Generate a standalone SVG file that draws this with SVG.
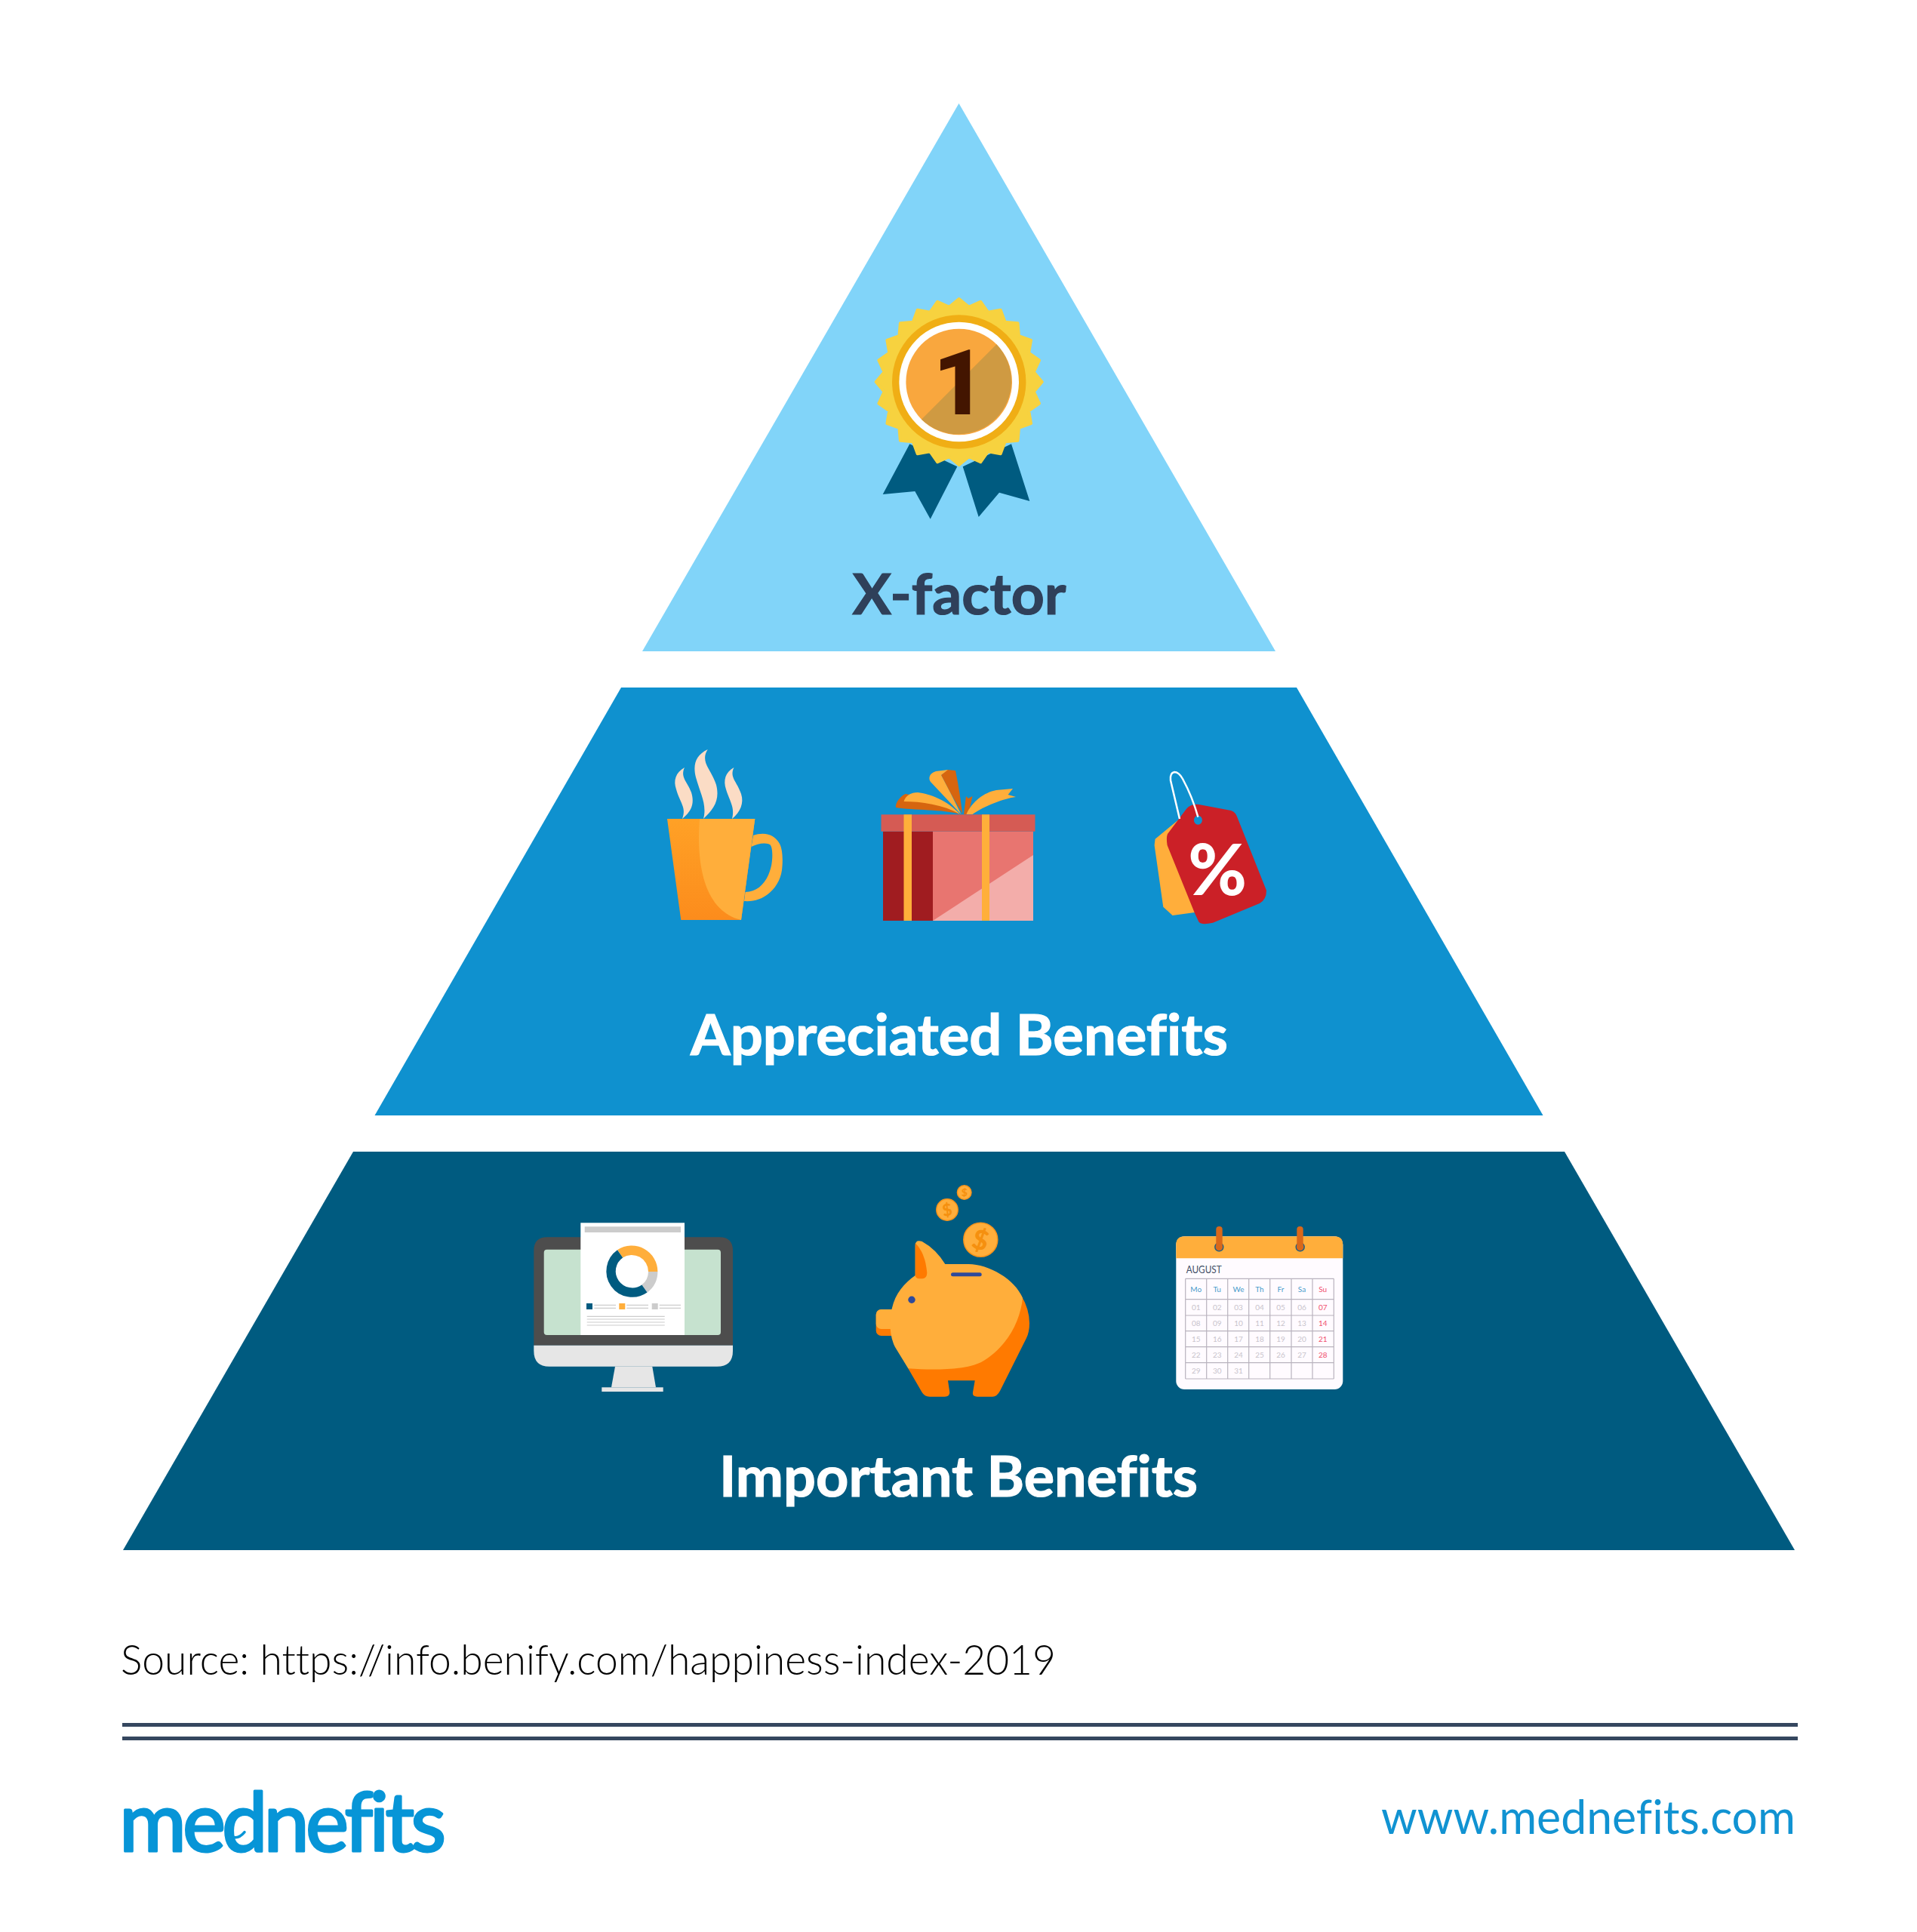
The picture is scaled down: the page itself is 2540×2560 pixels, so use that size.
<svg xmlns="http://www.w3.org/2000/svg" width="2540" height="2560" viewBox="0 0 2540 2560">
<style>
text{font-variant-ligatures:none}
.h{font-family:"Lato","Liberation Sans",sans-serif;font-weight:700;font-size:75px;fill:#fff;stroke:#fff;stroke-width:1.2;text-anchor:middle}
.org{fill:#FFAE3B}.drk{fill:#FF7A00}
.cd{font-family:"Lato","Liberation Sans",sans-serif;font-size:10px;text-anchor:middle;fill:#C8C4CC}
.cw{fill:#4A9BCB}.cr{fill:#F0506E}
.gl{stroke:#B9B3BE;stroke-width:1.2;fill:none}
.ln{stroke:#CCCCCC;stroke-width:1.2;fill:none}
.coin{fill:#FFAE3B;stroke:#F8931A;stroke-width:1.5}
.dl{font-family:"Lato","Liberation Sans",sans-serif;font-weight:900;fill:#F5900F;text-anchor:middle}
.st{fill:#FBDCC5}
.rule{fill:#35475F}
</style>
<rect width="2540" height="2560" fill="#fff"/>

<g id="tier-xfactor">
<polygon points="1270.500,137 1690,863 851,863" fill="#81D4F9"/>
<text class="h" x="1271" y="814" style="fill:#2F405A;stroke:#2F405A" textLength="283" lengthAdjust="spacingAndGlyphs">X-factor</text>
</g>
<g id="icon-medal">
<polygon points="1205.300,588.300 1268.300,618.300 1232.700,687.700 1212.300,651 1169.700,655" fill="#005B80"/>
<polygon points="1340,588.300 1364.300,664 1324,652.700 1296.700,685 1275.700,618.300" fill="#005B80"/>
<polygon transform="translate(1270.700 506)" fill="#F7D23F" stroke="#F7D23F" stroke-width="4" stroke-linejoin="round" points="0,-110 13.050,-99.100 28.500,-106.300 38.300,-92.400 55,-95.300 60.900,-79.300 77.800,-77.800 79.300,-60.900 95.300,-55 92.400,-38.300 106.300,-28.500 99.100,-13.050 110,0 99.100,13.050 106.300,28.500 92.400,38.300 95.300,55 79.300,60.900 77.800,77.800 60.900,79.300 55,95.300 38.300,92.400 28.500,106.300 13.050,99.100 0,110 -13.050,99.100 -28.500,106.300 -38.300,92.400 -55,95.300 -60.900,79.300 -77.800,77.800 -79.300,60.900 -95.300,55 -92.400,38.300 -106.300,28.500 -99.100,13.050 -110,0 -99.100,-13.050 -106.300,-28.500 -92.400,-38.300 -95.300,-55 -79.300,-60.900 -77.800,-77.800 -60.900,-79.300 -55,-95.300 -38.300,-92.400 -28.500,-106.300 -13.050,-99.100"/>
<circle cx="1270.700" cy="506" r="88.700" fill="#F0AE15"/>
<circle cx="1270.700" cy="506" r="79.300" fill="#fff"/>
<circle cx="1270.700" cy="506" r="70.300" fill="#F9A73E"/>
<path d="M1320.400 456.300 A70.300 70.300 0 0 1 1221 555.700 Z" fill="#CF9A42"/>
<text x="1271" y="549.300" font-family="Roboto,'Liberation Sans',sans-serif" font-weight="900" font-size="120" text-anchor="middle" fill="#431500">1</text>
</g>

<g id="tier-appreciated">
<polygon points="823,911 1718,911 2044.500,1478 496.500,1478" fill="#0F91CF"/>
<text class="h" x="1271" y="1398" textLength="712" lengthAdjust="spacingAndGlyphs">Appreciated Benefits</text>
</g>
<g id="icon-mug">
<path class="st" d="M907 1017 C895 1024 892 1034 896 1046 C901 1064 910 1070 904 1085 C915 1076 921 1066 916 1050 C911 1036 901 1030 907 1017Z"/>
<path class="st" d="M937.700 993 C921 1001 918 1014 922 1030 C928 1052 937 1066 932 1085 C946 1072 954 1060 949 1040 C943 1020 927 1010 937.700 993Z"/>
<path class="st" d="M972.500 1017 C961 1023 958 1034 962 1046 C967 1062 974 1070 970 1085 C981 1076 986 1064 982 1052 C977 1036 966 1030 972.500 1017Z"/>
<path class="org" d="M998 1107 C1012 1102 1026 1105 1033 1118 C1038 1128 1037 1145 1036 1153 C1033 1175 1014 1196 986 1194 L987.500 1182 C1006 1182 1018 1166 1022 1147 C1024 1137 1024 1122 1020 1119 C1014 1116 1003 1118 995.500 1122Z"/>
<defs><linearGradient id="mugg" x1="0" y1="0" x2="0" y2="1"><stop offset="0" stop-color="#FFA126"/><stop offset="1" stop-color="#FC8C1C"/></linearGradient></defs>
<polygon points="884,1085 1000.300,1085 982,1219 902.300,1219" fill="url(#mugg)"/>
<path class="org" d="M927 1085 C922 1150 935 1208 982 1219 L1000.300 1085Z"/>
</g>
<g id="icon-gift">
<rect x="1170" y="1101.700" width="66" height="118.300" fill="#A01C20"/>
<rect x="1236" y="1101.700" width="133" height="118.300" fill="#E87570"/>
<polygon points="1236,1220 1369,1133 1369,1220" fill="#F3ADAA"/>
<rect x="1167.500" y="1079.300" width="204" height="22.400" fill="#D55B54"/>
<rect x="1197.500" y="1079.300" width="10.500" height="140.700" fill="#FFAF3A"/>
<rect x="1301" y="1079.300" width="10" height="140.700" fill="#FFAF3A"/>
<path d="M1272 1079 C1250 1072 1210 1074 1187 1070 C1186 1062 1196 1053 1200 1052 L1240 1060Z" fill="#D6650F"/>
<path class="org" d="M1272 1079 C1255 1060 1232 1052 1216 1050 C1207 1050 1200 1054 1197.500 1062 C1220 1062 1250 1066 1272 1079Z"/>
<path d="M1247 1027 L1255 1020 L1266 1021 C1270 1040 1273 1060 1275 1078 L1259 1050Z" fill="#D6650F"/>
<path class="org" d="M1273.500 1079 L1233 1036 C1229 1030 1233 1024 1240 1022 L1256 1020 L1247 1027 L1259 1050Z"/>
<polygon points="1277,1079 1280,1055 1283,1058 1288.500,1055 1283,1079" fill="#D6650F"/>
<path class="org" d="M1280.500 1079 C1288 1062 1304 1050 1320 1047 L1342 1045 L1335.600 1053 L1346 1056 C1330 1058 1304 1068 1288.500 1079Z"/>
</g>
<g id="icon-tag">
<polygon points="1561.700,1086 1530.600,1111.700 1529.600,1120 1541.300,1201.700 1553.600,1213 1583,1209 1600,1150" class="org"/>
<path d="M1588.500 1066 L1631 1074 Q1637 1076 1639 1082 L1678 1180 Q1678 1192 1669 1197 L1607 1222.700 Q1592 1226 1588.500 1221.700 L1583 1210 L1546.600 1120 Q1545 1110 1547 1105 L1572 1071.700 Q1578 1065 1588.500 1066Z" fill="#CB2027"/>
<ellipse cx="1587.400" cy="1086.700" rx="5.500" ry="6" fill="#0F91CF"/>
<path d="M1563 1085 L1551 1034 Q1550 1024 1556 1023 Q1562 1023 1567 1032 Q1580 1056 1587.400 1082.700" fill="none" stroke="#fff" stroke-width="2.500"/>
<text x="1613" y="1186" font-family="Lato,'Liberation Sans',sans-serif" font-weight="900" font-size="94" text-anchor="middle" fill="#fff">%</text>
</g>

<g id="tier-important">
<polygon points="468,1526 2073,1526 2378,2054 163,2054" fill="#005B80"/>
<text class="h" x="1270" y="1982.500" textLength="634" lengthAdjust="spacingAndGlyphs">Important Benefits</text>
</g>
<g id="icon-monitor">
<path d="M707.300 1782.700 V1657 Q707.300 1639.300 725 1639.300 H953 Q971 1639.300 971 1657 V1782.700Z" fill="#4D4D4D"/>
<rect x="720.700" y="1655.700" width="234.300" height="113.300" rx="4" fill="#C6E2CF"/>
<path d="M707.300 1782.700 H971 V1790 Q971 1810.700 950 1810.700 H728 Q707.300 1810.700 707.300 1790Z" fill="#E6E6E6"/>
<polygon points="815,1810.700 864.300,1810.700 869,1838.300 810,1838.300" fill="#E6E6E6"/>
<rect x="797.300" y="1838.300" width="81.400" height="5.700" fill="#E6E6E6"/>
<rect x="769.300" y="1620.300" width="137.700" height="148.700" fill="#fff"/>
<rect x="774.700" y="1625.300" width="127.300" height="7.700" fill="#CCCCCC"/>
<path d="M821.600 1661.300 A28.200 28.200 0 0 1 865.200 1685" fill="none" stroke="#FFAE3B" stroke-width="12.400"/>
<path d="M865.200 1685 A28.200 28.200 0 0 1 854 1707.500" fill="none" stroke="#CCCCCC" stroke-width="12.400"/>
<path d="M854 1707.500 A28.200 28.200 0 1 1 821.600 1661.300" fill="none" stroke="#005B80" stroke-width="12.400"/>
<rect x="777" y="1727" width="8" height="8" fill="#005B80"/>
<rect x="820.300" y="1727" width="8" height="8" fill="#FFAE3B"/>
<rect x="863.700" y="1727" width="8" height="8" fill="#CCCCCC"/>
<path class="ln" d="M787.300 1729.300H816M787.300 1733.300H816M830.300 1729.300H859M830.300 1733.300H859M873.700 1729.300H902M873.700 1733.300H902M777.700 1744.300H880.700M777.700 1748H880.700M777.700 1752H880.700M777.700 1756H880.700"/>
</g>
<g id="icon-piggy">
<circle class="coin" cx="1299.300" cy="1642.700" r="22.500"/>
<circle class="coin" cx="1255" cy="1603" r="14.200"/>
<circle class="coin" cx="1277.700" cy="1580" r="9.300"/>
<text class="dl" x="1299.300" y="1656" font-size="36" transform="rotate(15 1299.300 1642.700)">$</text>
<text class="dl" x="1255" y="1611" font-size="22" transform="rotate(-10 1255 1603)">$</text>
<text class="dl" x="1277.700" y="1585" font-size="14">$</text>
<rect class="drk" x="1160.700" y="1735" width="30" height="35" rx="7"/>
<rect class="org" x="1160.700" y="1735" width="30" height="26" rx="7"/>
<path class="drk" d="M1353.300 1716.700 Q1364 1735 1364 1753.300 Q1364 1765 1360 1773 L1325 1843 Q1321 1850.700 1315 1850.700 H1295 Q1288 1850.700 1289 1845 L1291.700 1829.300 H1256 L1258.300 1845 Q1258.300 1850.700 1251.700 1850.700 H1231.700 Q1225 1850.700 1221.700 1845 L1203.300 1813.300 L1250 1750Z"/>
<path class="org" d="M1212.700 1650 Q1213 1642 1221.700 1645 Q1240 1655 1252.300 1675 H1283.300 C1310 1675 1345 1695 1355 1720 C1352 1750 1335 1785 1300 1805 C1280 1815 1240 1816 1203.300 1813.300 L1186 1785 C1178 1770 1178 1745 1182 1733 C1186 1715 1198 1700 1212.700 1690Z"/>
<path class="drk" d="M1212.700 1647.300 Q1226 1660 1228.300 1686.700 Q1228 1694.300 1222 1694.300 H1218 Q1213 1694 1212.700 1690Z"/>
<circle cx="1208" cy="1722.300" r="4.700" fill="#2E4A9B"/>
<rect x="1260" y="1686.300" width="40.700" height="5" rx="2.500" fill="#2E4A9B"/>
</g>
<g id="icon-calendar">
<rect x="1558.300" y="1638.300" width="221" height="202.700" rx="11" fill="#FFFBFF"/>
<path class="org" d="M1558.300 1667.300 V1649.300 Q1558.300 1638.300 1569.300 1638.300 H1768.300 Q1779.300 1638.300 1779.300 1649.300 V1667.300Z"/>
<circle cx="1615.300" cy="1652.300" r="5.500" fill="#D9681A" stroke="#1D5F86" stroke-width="1.500"/>
<circle cx="1722.700" cy="1652.300" r="5.500" fill="#D9681A" stroke="#1D5F86" stroke-width="1.500"/>
<rect x="1611.300" y="1625" width="8.400" height="31.700" rx="4" fill="#D9681A"/>
<rect x="1718.300" y="1625" width="8.400" height="31.700" rx="4" fill="#D9681A"/>
<text x="1571.700" y="1686.700" font-family="Lato,'Liberation Sans',sans-serif" font-size="14" fill="#3F4F66" textLength="47" lengthAdjust="spacingAndGlyphs">AUGUST</text>
<path class="gl" d="M1570.700 1694.300V1827M1598.700 1694.300V1827M1626.700 1694.300V1827M1654.700 1694.300V1827M1682.700 1694.300V1827M1711 1694.300V1827M1739 1694.300V1827M1767.300 1694.300V1827M1570.700 1694.300H1767.300M1570.700 1721.700H1767.300M1570.700 1743H1767.300M1570.700 1763.700H1767.300M1570.700 1784.700H1767.300M1570.700 1805.700H1767.300M1570.700 1827H1767.300"/>
<g class="cd">
<text class="cd cw" x="1584.700" y="1712">Mo</text><text class="cd cw" x="1612.700" y="1712">Tu</text><text class="cd cw" x="1641" y="1712">We</text><text class="cd cw" x="1669" y="1712">Th</text><text class="cd cw" x="1697" y="1712">Fr</text><text class="cd cw" x="1725" y="1712">Sa</text><text class="cd cr" x="1752.700" y="1712">Su</text>
<text class="cd" x="1584.700" y="1735.500">01</text><text class="cd" x="1612.700" y="1735.500">02</text><text class="cd" x="1641" y="1735.500">03</text><text class="cd" x="1669" y="1735.500">04</text><text class="cd" x="1697" y="1735.500">05</text><text class="cd" x="1725" y="1735.500">06</text><text class="cd cr" x="1752.700" y="1735.500">07</text>
<text class="cd" x="1584.700" y="1757">08</text><text class="cd" x="1612.700" y="1757">09</text><text class="cd" x="1641" y="1757">10</text><text class="cd" x="1669" y="1757">11</text><text class="cd" x="1697" y="1757">12</text><text class="cd" x="1725" y="1757">13</text><text class="cd cr" x="1752.700" y="1757">14</text>
<text class="cd" x="1584.700" y="1777.500">15</text><text class="cd" x="1612.700" y="1777.500">16</text><text class="cd" x="1641" y="1777.500">17</text><text class="cd" x="1669" y="1777.500">18</text><text class="cd" x="1697" y="1777.500">19</text><text class="cd" x="1725" y="1777.500">20</text><text class="cd cr" x="1752.700" y="1777.500">21</text>
<text class="cd" x="1584.700" y="1798.500">22</text><text class="cd" x="1612.700" y="1798.500">23</text><text class="cd" x="1641" y="1798.500">24</text><text class="cd" x="1669" y="1798.500">25</text><text class="cd" x="1697" y="1798.500">26</text><text class="cd" x="1725" y="1798.500">27</text><text class="cd cr" x="1752.700" y="1798.500">28</text>
<text class="cd" x="1584.700" y="1819.500">29</text><text class="cd" x="1612.700" y="1819.500">30</text><text class="cd" x="1641" y="1819.500">31</text>
</g>
</g>

<g id="footer">
<text x="160" y="2219" font-family="Lato,'Liberation Sans',sans-serif" font-weight="300" font-size="56" fill="#000" textLength="1239" lengthAdjust="spacingAndGlyphs">Source: https://info.benify.com/happiness-index-2019</text>
<rect class="rule" x="162" y="2283" width="2220" height="5"/>
<rect class="rule" x="162" y="2301" width="2220" height="5"/>
<text x="158" y="2452.700" font-family="Lato,'Liberation Sans',sans-serif" font-weight="400" font-size="108" fill="#0795D7" stroke="#0795D7" stroke-width="3" stroke-linejoin="round" textLength="433">mednefits</text>
<path d="M301 2427.700 Q312 2442 324 2427.700" fill="none" stroke="#0795D7" stroke-width="3.500" stroke-linecap="round"/>
<text x="1830" y="2430" font-family="Lato,'Liberation Sans',sans-serif" font-weight="400" font-size="62" fill="#1193D2" textLength="549" lengthAdjust="spacingAndGlyphs">www.mednefits.com</text>
</g>
</svg>
